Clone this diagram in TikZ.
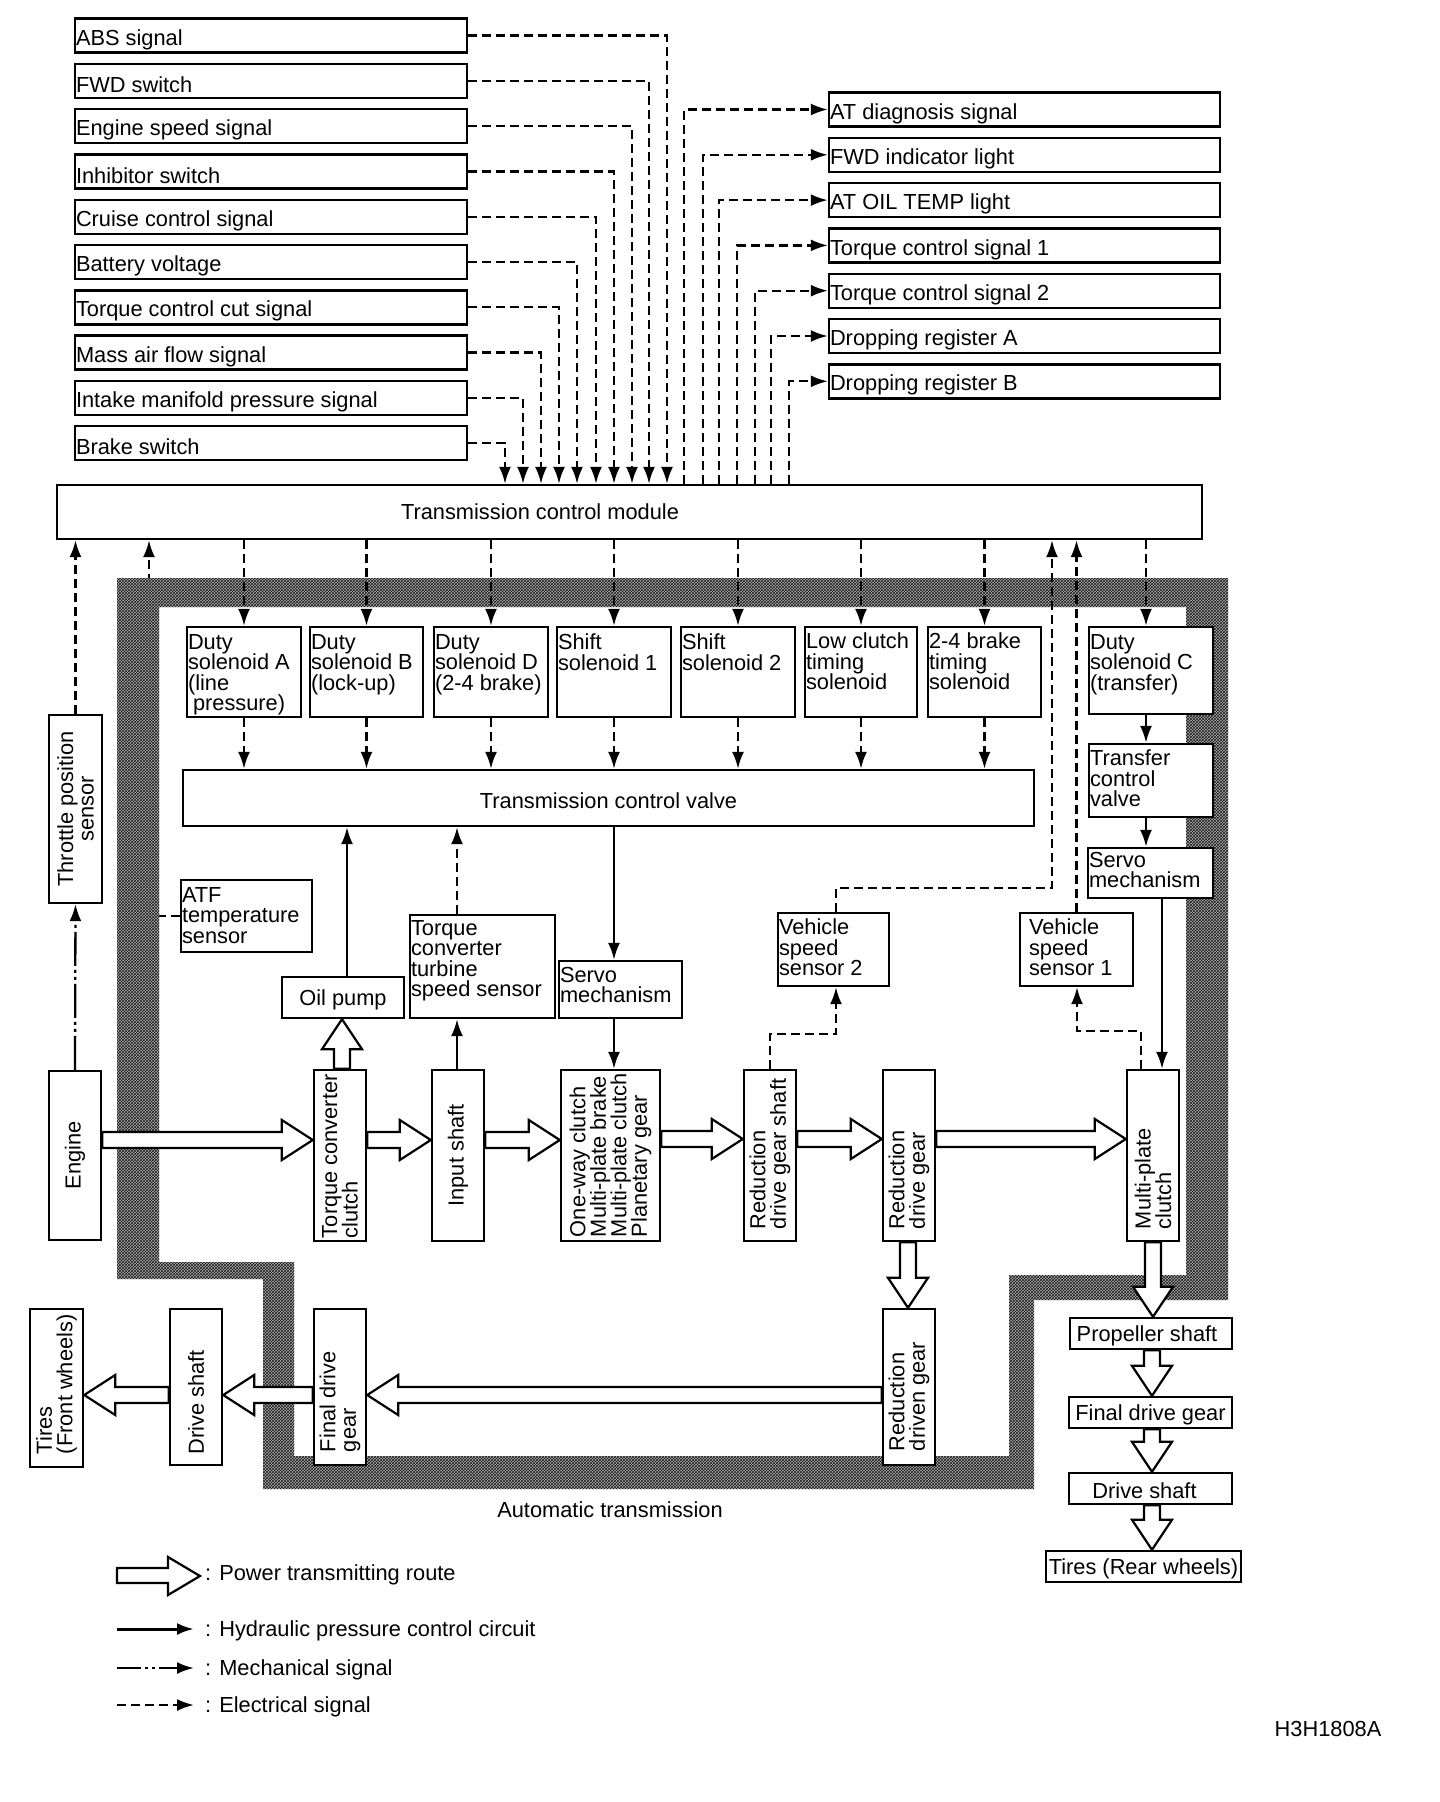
\documentclass[tikz,border=0pt]{standalone}
\usepackage{fontspec}
\setmainfont{Liberation Sans}
\usetikzlibrary{arrows.meta,calc,fit,patterns}
\newcommand\myfs{\fontsize{21.8pt}{20.5pt}\selectfont}
\newcommand\bx[5]{\node[box, fit={(#2,#3) (#4,#5)}] (#1) {};}
\newcommand\vx[2]{\coordinate (#1) at (#2,0);}
% hollow (power) arrows
\newcommand\hR[3]{%
 \coordinate (hY) at (0,#3);
 \coordinate (hA) at (#1.east |- hY);
 \coordinate (hB) at (#2.west |- hY);
 \draw[hollow] ($(hA)+(0,-8)$) -- ($(hB)+(-31,-8)$) -- ($(hB)+(-31,-20)$) -- (hB) -- ($(hB)+(-31,20)$) -- ($(hB)+(-31,8)$) -- ($(hA)+(0,8)$) -- cycle;}
\newcommand\hL[3]{%
 \coordinate (hY) at (0,#3);
 \coordinate (hA) at (#1.west |- hY);
 \coordinate (hB) at (#2.east |- hY);
 \draw[hollow] ($(hA)+(0,-8)$) -- ($(hB)+(31,-8)$) -- ($(hB)+(31,-20)$) -- (hB) -- ($(hB)+(31,20)$) -- ($(hB)+(31,8)$) -- ($(hA)+(0,8)$) -- cycle;}
\newcommand\hD[3]{%
 \coordinate (hX) at (#3,0);
 \coordinate (hA) at (#1.south -| hX);
 \coordinate (hB) at (#2.north -| hX);
 \draw[hollow] ($(hA)+(-8,0)$) -- ($(hB)+(-8,-30)$) -- ($(hB)+(-20,-30)$) -- (hB) -- ($(hB)+(20,-30)$) -- ($(hB)+(8,-30)$) -- ($(hA)+(8,0)$) -- cycle;}
\newcommand\hU[3]{%
 \coordinate (hX) at (#3,0);
 \coordinate (hA) at (#1.north -| hX);
 \coordinate (hB) at (#2.south -| hX);
 \draw[hollow] ($(hA)+(-8,0)$) -- ($(hB)+(-8,30)$) -- ($(hB)+(-20,30)$) -- (hB) -- ($(hB)+(20,30)$) -- ($(hB)+(8,30)$) -- ($(hA)+(8,0)$) -- cycle;}
\newcommand\bandpath{(117,578) -- (1228,578) -- (1228,1300) -- (1034,1300) -- (1034,1489) -- (263,1489) -- (263,1279) -- (117,1279) -- cycle (159,607) -- (1186,607) -- (1186,1275) -- (1009,1275) -- (1009,1456) -- (294,1456) -- (294,1262) -- (159,1262) -- cycle}
\begin{document}
\begin{tikzpicture}[x=1pt,y=-1pt,
 box/.style={draw, line width=2.4pt, fill=white, inner sep=0pt},
 txt/.style={inner xsep=2pt, inner ysep=0pt, align=left, font=\myfs},
 ctxt/.style={inner sep=0pt, align=center, font=\myfs},
 mytip/.style={-{Latex[length=17pt,width=12pt]}},
 elec/.style={line width=2.3pt, dash pattern=on 9pt off 5pt, mytip},
 hyd/.style={line width=2.3pt, mytip},
 mech/.style={line width=2.3pt, dash pattern=on 34pt off 4pt on 3pt off 4pt on 3pt off 4pt, mytip},
 hollow/.style={draw, fill=white, line width=2.2pt, line join=miter}]
\useasboundingbox (0,0) rectangle (1440,1802);
\fill[white] (0,0) rectangle (1440,1802);

% Transmission control module
\bx{tcm}{57}{485}{1202}{539}
\node[ctxt] (tcmt) at (540,512) {Transmission control module};

% ATF sensor and its hidden line (under the band)
\bx{atf}{181}{880}{312}{952}
\node[txt, anchor=north west] (atft) at ($(atf.north west)+(0,8)$) {ATF\\temperature\\sensor};
\vx{c149}{149}
\draw[elec] (atf.west) -| (tcm.south -| c149);

% hatched band (automatic transmission)
\fill[black!32, even odd rule] \bandpath;
\fill[pattern=crosshatch, pattern color=black!90, even odd rule] \bandpath;
\node[ctxt] (att) at (610,1510) {Automatic transmission};

% input signals
\foreach \i/\t/\xx in {0/ABS signal/667,1/FWD switch/649,2/Engine speed signal/632,3/Inhibitor switch/614,4/Cruise control signal/596,5/Battery voltage/577,6/Torque control cut signal/559,7/Mass air flow signal/541,8/Intake manifold pressure signal/523,9/Brake switch/505}{
 \pgfmathsetmacro\yt{18.5+45.3*\i}
 \pgfmathsetmacro\yb{\yt+34}
 \node[box, fit={(75,\yt) (467,\yb)}] (in\i) {};
 \node[txt, anchor=west] (int\i) at ($(in\i.west)+(0,4)$) {\t};
 \coordinate (cx) at (\xx,0);
 \draw[elec] (in\i.east) -| (tcm.north -| cx);
}

% output signals
\foreach \j/\t/\xx in {0/AT diagnosis signal/684,1/FWD indicator light/703,2/AT OIL TEMP light/719,3/Torque control signal 1/737,4/Torque control signal 2/755,5/Dropping register A/771,6/Dropping register B/789}{
 \pgfmathsetmacro\yt{92.5+45.3*\j}
 \pgfmathsetmacro\yb{\yt+34}
 \node[box, fit={(829,\yt) (1220,\yb)}] (out\j) {};
 \node[txt, anchor=west] (outt\j) at ($(out\j.west)+(0,4)$) {\t};
 \coordinate (cx) at (\xx,0);
 \draw[elec] (tcm.north -| cx) |- (out\j.west);
}

% throttle position sensor and engine
\bx{thr}{49}{715}{102}{903}
\node[ctxt, rotate=90] (thrt) at (thr.center) {Throttle position\\sensor};
\bx{eng}{49}{1071}{101}{1240}
\node[ctxt, rotate=90] (engt) at (eng.center) {Engine};
\draw[mech] (eng.north) -- (thr.south);
\draw[elec] (thr.north) -- (tcm.south -| thr.north);

% solenoids
\bx{dA}{187}{627}{301}{717}
\bx{dB}{310}{627}{423}{717}
\bx{dD}{434}{627}{548}{717}
\bx{sA}{557}{627}{671}{717}
\bx{sB}{681}{627}{795}{717}
\bx{lc}{805}{627}{917}{717}
\bx{bk}{928}{627}{1041}{717}
\bx{dC}{1089}{627}{1213}{714}
\node[txt, anchor=north west] (dAt) at ($(dA.north west)+(0,8)$) {Duty\\solenoid A\\(line\\\hspace*{5pt}pressure)};
\node[txt, anchor=north west] (dBt) at ($(dB.north west)+(0,8)$) {Duty\\solenoid B\\(lock-up)};
\node[txt, anchor=north west] (dDt) at ($(dD.north west)+(0,8)$) {Duty\\solenoid D\\(2-4 brake)};
\node[txt, anchor=north west] (sAt) at ($(sA.north west)+(0,8)$) {Shift\\solenoid 1};
\node[txt, anchor=north west] (sBt) at ($(sB.north west)+(0,8)$) {Shift\\solenoid 2};
\node[txt, anchor=north west] (lct) at ($(lc.north west)+(0,7)$) {Low clutch\\timing\\solenoid};
\node[txt, anchor=north west] (bkt) at ($(bk.north west)+(0,7)$) {2-4 brake\\timing\\solenoid};
\node[txt, anchor=north west] (dCt) at ($(dC.north west)+(0,8)$) {Duty\\solenoid C\\(transfer)};

% transmission control valve
\bx{tcv}{183}{770}{1034}{826}
\node[ctxt] (tcvt) at ($(tcv.center)+(0,3)$) {Transmission control valve};

\foreach \n in {dA,dB,dD,sA,sB,lc,bk}{
 \draw[elec] (tcm.south -| \n.north) -- (\n.north);
 \draw[elec] (\n.south) -- (tcv.north -| \n.south);
}
\vx{c1146}{1146}
\draw[elec] (tcm.south -| c1146) -- (dC.north -| c1146);

% transfer path
\bx{tv}{1089}{744}{1213}{817}
\node[txt, anchor=north west] (tvt) at ($(tv.north west)+(0,7)$) {Transfer\\control\\valve};
\bx{svR}{1088}{848}{1213}{898}
\node[txt, anchor=north west] (svRt) at ($(svR.north west)+(0,5)$) {Servo\\mechanism};
\draw[hyd] (dC.south -| c1146) -- (tv.north -| c1146);
\draw[hyd] (tv.south -| c1146) -- (svR.north -| c1146);

% vehicle speed sensors
\bx{vs2}{778}{913}{889}{986}
\node[txt, anchor=north west] (vs2t) at ($(vs2.north west)+(0,7)$) {Vehicle\\speed\\sensor 2};
\bx{vs1}{1020}{913}{1133}{986}
\node[txt, anchor=north west] (vs1t) at ($(vs1.north west)+(8,7)$) {Vehicle\\speed\\sensor 1};

% middle components
\bx{oil}{282}{977}{404}{1018}
\node[ctxt] (oilt) at ($(oil.center)+(0,2)$) {Oil pump};
\bx{tcs}{410}{915}{555}{1018}
\node[txt, anchor=north west] (tcst) at ($(tcs.north west)+(0,6)$) {Torque\\converter\\turbine\\speed sensor};
\bx{svM}{559}{961}{682}{1018}
\node[txt, anchor=north west] (svMt) at ($(svM.north west)+(0,7)$) {Servo\\mechanism};

% power row
\bx{tcc}{314}{1070}{366}{1241}
\bx{ins}{432}{1070}{484}{1241}
\bx{pg}{561}{1070}{660}{1241}
\bx{rdgs}{744}{1070}{796}{1241}
\bx{rdg}{883}{1070}{935}{1241}
\bx{mpc}{1127}{1070}{1179}{1241}
\node[txt, rotate=90, anchor=west] (tcct) at ($(tcc.south)+(0,-2)$) {Torque converter\\clutch};
\node[ctxt, rotate=90] (inst) at (ins.center) {Input shaft};
\node[txt, rotate=90, anchor=west] (pgt) at ($(pg.south)+(0,-3)$) {One-way clutch\\Multi-plate brake\\Multi-plate clutch\\Planetary gear};
\node[txt, rotate=90, anchor=west] (rdgst) at ($(rdgs.south)+(0,-11)$) {Reduction\\drive gear shaft};
\node[txt, rotate=90, anchor=west] (rdgt) at ($(rdg.south)+(0,-11)$) {Reduction\\drive gear};
\node[txt, rotate=90, anchor=west] (mpct) at ($(mpc.south)+(0,-11)$) {Multi-plate\\clutch};

% lower row
\bx{rdn}{883}{1309}{935}{1465}
\bx{fdg}{314}{1309}{366}{1465}
\bx{dsh}{170}{1309}{222}{1465}
\bx{tfw}{30}{1309}{83}{1467}
\node[txt, rotate=90, anchor=west] (rdnt) at ($(rdn.south)+(0,-13)$) {Reduction\\driven gear};
\node[txt, rotate=90, anchor=west] (fdgt) at ($(fdg.south)+(0,-12)$) {Final drive\\gear};
\node[ctxt, rotate=90] (dsht) at ($(dsh.center)+(0,15)$) {Drive shaft};
\node[txt, rotate=90, anchor=west] (tfwt) at ($(tfw.south)+(0,-12)$) {Tires\\(Front wheels)};

% rear chain
\bx{prop}{1070}{1318}{1232}{1349}
\bx{fdr}{1069}{1397}{1232}{1428}
\bx{dsr}{1069}{1473}{1232}{1504}
\bx{trw}{1046}{1551}{1241}{1582}
\node[ctxt] (propt) at ($(prop.center)+(-4,2)$) {Propeller shaft};
\node[ctxt] (fdrt) at ($(fdr.center)+(0,2)$) {Final drive gear};
\node[ctxt] (dsrt) at ($(dsr.center)+(-6,2)$) {Drive shaft};
\node[ctxt] (trwt) at ($(trw.center)+(0,2)$) {Tires (Rear wheels)};

% hydraulic / signal connectors in the middle
\vx{c347}{347}
\vx{c457}{457}
\vx{c614}{614}
\vx{c1162}{1162}
\vx{c1052}{1052}
\vx{c836}{836}
\vx{c1141}{1141}
\draw[hyd] (oil.north -| c347) -- (tcv.south -| c347);
\draw[elec] (tcs.north -| c457) -- (tcv.south -| c457);
\draw[hyd] (ins.north -| c457) -- (tcs.south -| c457);
\draw[hyd] (tcv.south -| c614) -- (svM.north -| c614);
\draw[hyd] (svM.south -| c614) -- (pg.north -| c614);
\draw[hyd] (svR.south -| c1162) -- (mpc.north -| c1162);
\coordinate (k2) at (1052,888);
\draw[elec] (vs2.north -| c836) |- (k2) -- (tcm.south -| c1052);
\draw[elec] (vs1.north) -- (tcm.south -| vs1.north);
\coordinate (k3) at (836,1034);
\draw[elec] (rdgs.north) |- (k3) -- (vs2.south -| c836);
\coordinate (k4) at (1077,1031);
\draw[elec] (mpc.north -| c1141) |- (k4) -- (vs1.south -| k4);

% power transmitting route
\hR{eng}{tcc}{1140}
\hR{tcc}{ins}{1140}
\hR{ins}{pg}{1140}
\hR{pg}{rdgs}{1139}
\hR{rdgs}{rdg}{1139}
\hR{rdg}{mpc}{1139}
\hU{tcc}{oil}{342}
\hD{rdg}{rdn}{908}
\hL{rdn}{fdg}{1395}
\hL{fdg}{dsh}{1395}
\hL{dsh}{tfw}{1395}
\hD{mpc}{prop}{1153}
\hD{prop}{fdr}{1152}
\hD{fdr}{dsr}{1152}
\hD{dsr}{trw}{1152}

% legend
\draw[hollow] (117,1568) -- (168,1568) -- (168,1557) -- (200,1576) -- (168,1595) -- (168,1583) -- (117,1583) -- cycle;
\node[txt, anchor=west] (lg1) at (203,1575) {: Power transmitting route};
\coordinate (lh1) at (117,1629); \coordinate (lh2) at (194,1629);
\draw[hyd, line width=3pt] (lh1) -- (lh2);
\node[txt, anchor=west] (lg2) at (203,1631) {: Hydraulic pressure control circuit};
\coordinate (lm1) at (117,1668); \coordinate (lm2) at (194,1668);
\draw[line width=2.5pt, dash pattern=on 24pt off 4pt on 3pt off 4pt on 3pt off 4pt, mytip] (lm1) -- (lm2);
\node[txt, anchor=west] (lg3) at (203,1670) {: Mechanical signal};
\coordinate (le1) at (117,1705); \coordinate (le2) at (194,1705);
\draw[elec] (le1) -- (le2);
\node[txt, anchor=west] (lg4) at (203,1707) {: Electrical signal};

\node[ctxt] (code) at (1328,1729) {H3H1808A};
\end{tikzpicture}
\end{document}
